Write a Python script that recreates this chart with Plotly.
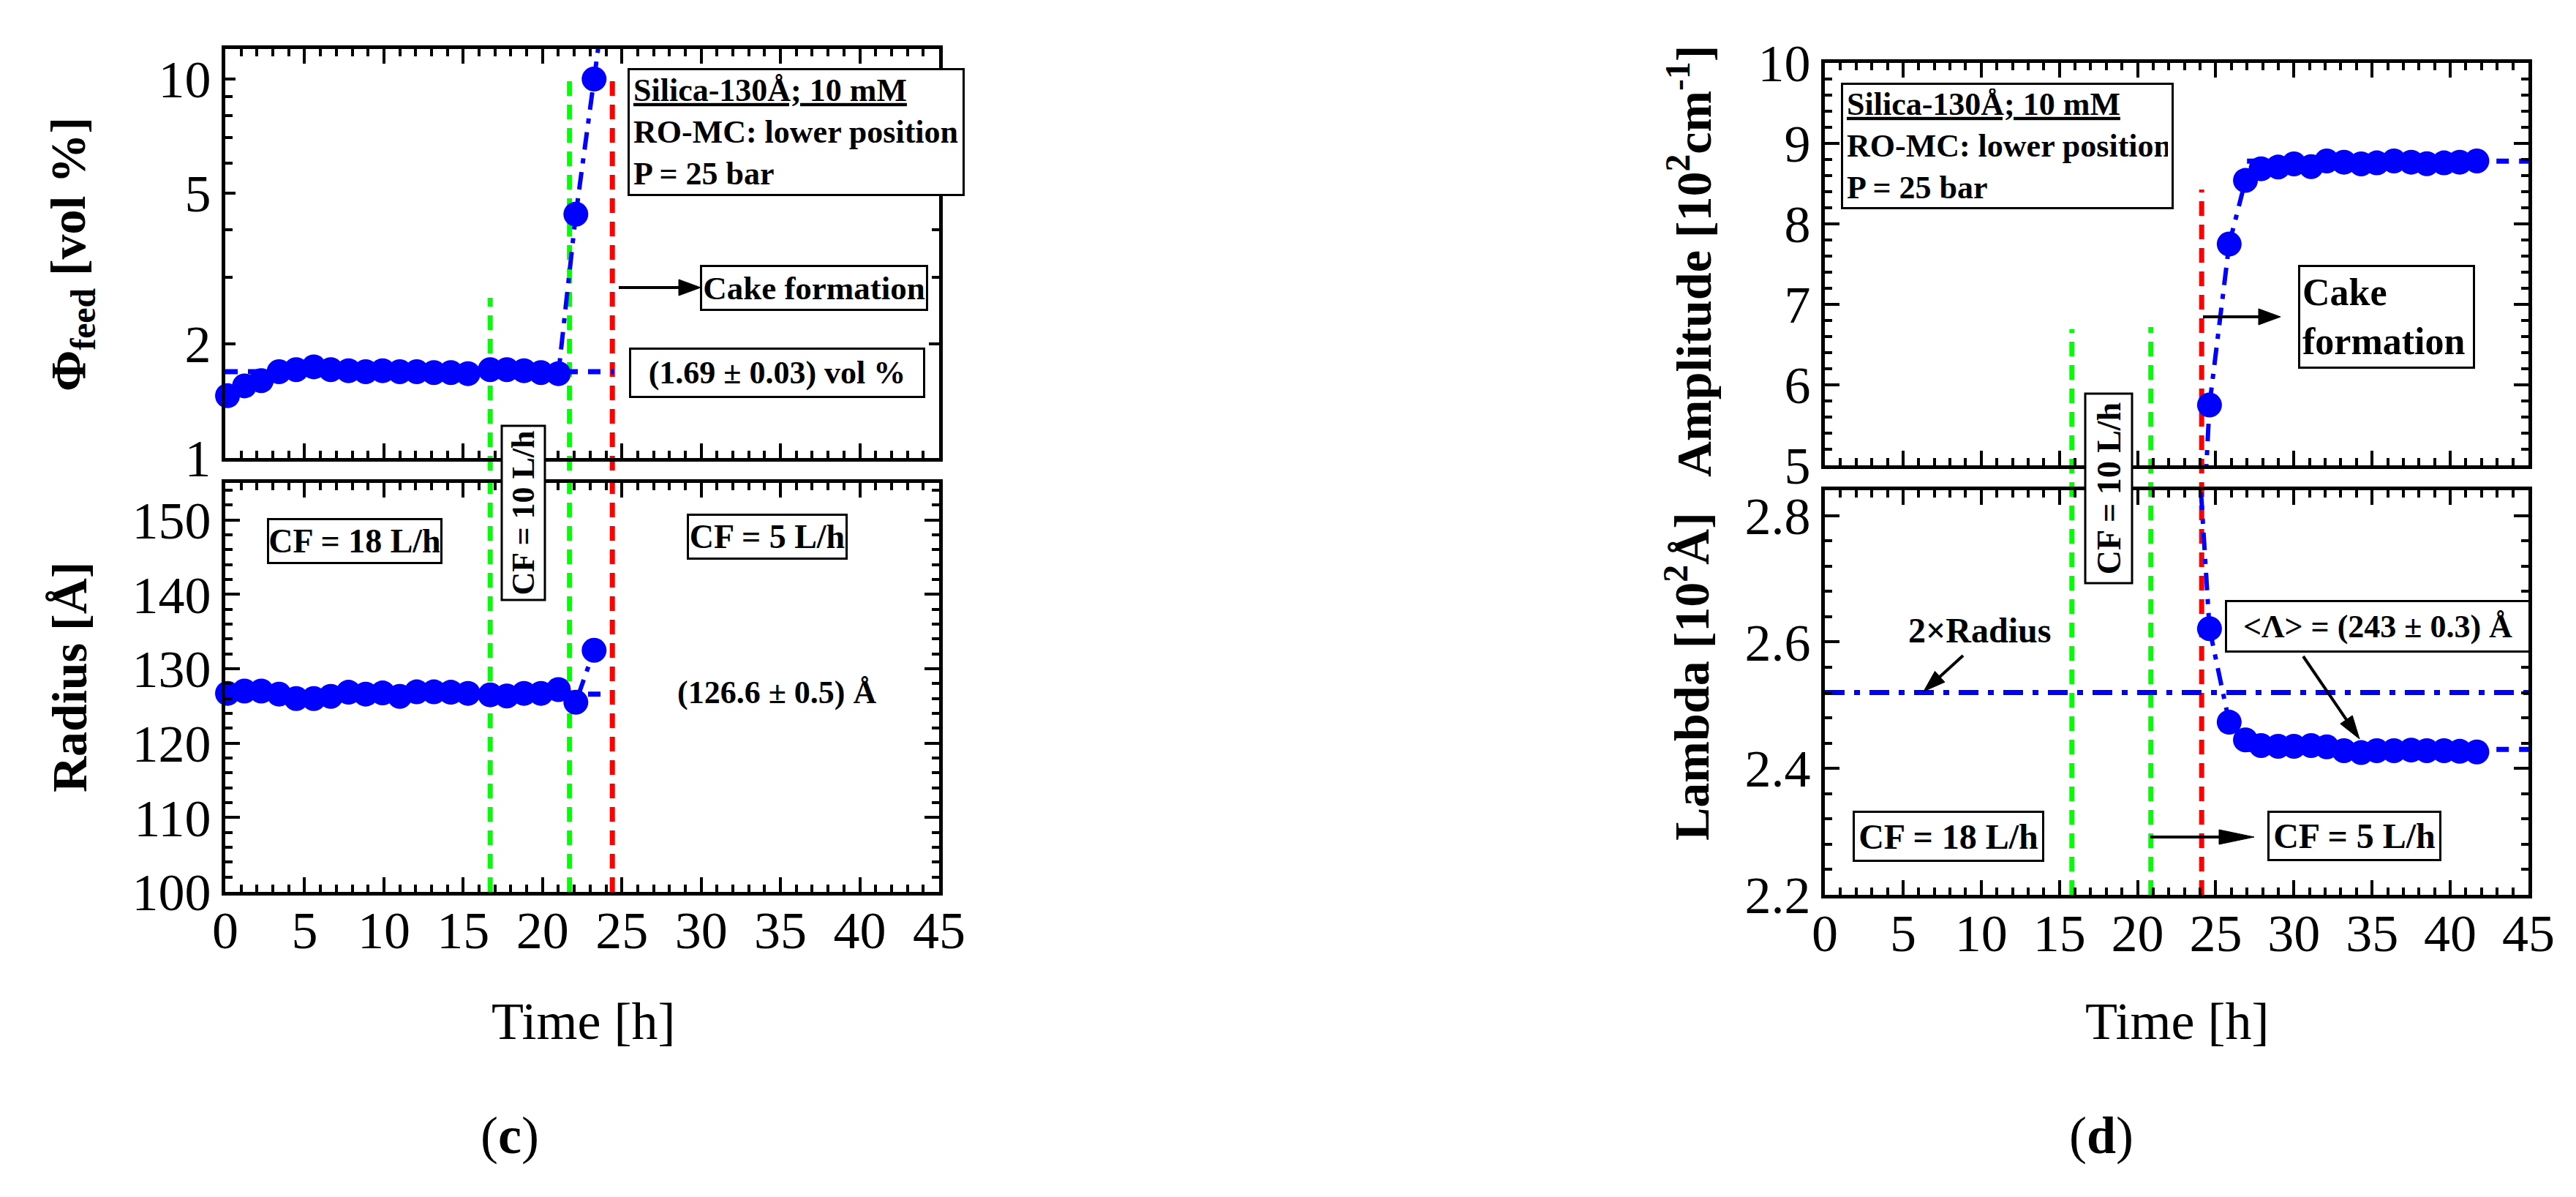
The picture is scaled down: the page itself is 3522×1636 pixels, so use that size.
import math
import plotly.graph_objects as go

W, H = 3522, 1636
SERIF = "Liberation Serif"
BLUE = "#0000FF"
GREEN = "#00FF00"
RED = "#FF0000"

# ---------------- data: panel (c) ----------------
time_c = [0.14, 1.21, 2.27, 3.39, 4.47, 5.58, 6.65, 7.77, 8.85, 9.92, 11.0,
          12.07, 13.15, 14.22, 15.3, 16.7, 17.75, 18.83, 19.9, 21.0, 22.1, 23.25]
phi_feed = [1.46, 1.55, 1.60, 1.69, 1.71, 1.74, 1.71, 1.70, 1.69, 1.70, 1.69,
            1.69, 1.68, 1.68, 1.67, 1.71, 1.71, 1.70, 1.68, 1.67, 4.4, 10.0]
radius = [126.7, 127.0, 127.0, 126.6, 126.0, 126.0, 126.3, 126.85, 126.6, 126.75, 126.3,
          126.9, 126.9, 126.85, 126.7, 126.5, 126.35, 126.7, 126.7, 127.2, 125.5, 132.5]
phi_guide_t = [23.25, 23.6]
phi_guide = [10.0, 12.9]
phi_mean_t = [0, 24.5]
phi_mean = [1.69, 1.69]
radius_mean_t = [0, 24.3]
radius_mean = [126.6, 126.6]
cf_change_c = [16.7, 21.7]
cake_c = 24.4

# ---------------- data: panel (d) ----------------
time_d = [24.6, 25.86, 26.9, 27.9, 28.99, 30.0, 31.1, 32.1, 33.2, 34.3, 35.3,
          36.4, 37.5, 38.5, 39.6, 40.6, 41.7]
amplitude = [5.75, 7.75, 8.54, 8.685, 8.706, 8.745, 8.712, 8.782, 8.767, 8.745, 8.758,
             8.782, 8.767, 8.748, 8.758, 8.767, 8.782]
lambda_ = [2.621, 2.473, 2.445, 2.436, 2.435, 2.435, 2.436, 2.434, 2.428, 2.425, 2.428,
           2.428, 2.429, 2.428, 2.428, 2.427, 2.426]
amp_guide_t = [24.35, 24.6]
amp_guide = [4.8, 5.75]
lam_guide_t = [23.9, 24.6]
lam_guide = [2.9, 2.621]
amp_mean_t = [27, 45]
amp_mean = [8.78, 8.78]
lam_mean_t = [27, 45]
lam_mean = [2.43, 2.43]
two_radius_t = [0, 45]
two_radius = [2.52, 2.52]
cf_change_d = [15.8, 20.85]
cake_d = 24.1


def px(x):
    return x / W


def py(y):
    return 1 - y / H


fig = go.Figure()

DASHDOT = "24px,12px,7px,12px"
MEANDASH = "17px,14px"


def add_series(t, v, xa, ya):
    fig.add_trace(go.Scatter(x=t, y=v, xaxis=xa, yaxis=ya, mode="lines+markers",
                             line=dict(color=BLUE, width=6, dash=DASHDOT),
                             marker=dict(color=BLUE, size=34, symbol="circle"),
                             cliponaxis=False, showlegend=False))


def add_line(t, v, xa, ya, dash, width=7):
    fig.add_trace(go.Scatter(x=t, y=v, xaxis=xa, yaxis=ya, mode="lines",
                             line=dict(color=BLUE, width=width, dash=dash),
                             showlegend=False))


# (c) top
add_line(phi_mean_t, phi_mean, "x", "y", MEANDASH)
add_line(phi_guide_t, phi_guide, "x", "y", DASHDOT, 6)
add_series(time_c, phi_feed, "x", "y")
# (c) bottom
add_line(radius_mean_t, radius_mean, "x2", "y2", MEANDASH)
add_series(time_c, radius, "x2", "y2")
# (d) top
add_line(amp_mean_t, amp_mean, "x3", "y3", MEANDASH)
add_line(amp_guide_t, amp_guide, "x3", "y3", DASHDOT, 6)
add_series(time_d, amplitude, "x3", "y3")
# (d) bottom
add_line(two_radius_t, two_radius, "x4", "y4", "27px,13px,8px,13px", 7)
add_line(lam_mean_t, lam_mean, "x4", "y4", MEANDASH)
add_line(lam_guide_t, lam_guide, "x4", "y4", DASHDOT, 6)
add_series(time_d, lambda_, "x4", "y4")

TICKFONT = dict(family=SERIF, size=72, color="black")
common = dict(showline=True, linewidth=5, linecolor="black", mirror="allticks",
              ticks="inside", ticklen=20, tickwidth=4, tickcolor="black",
              showgrid=False, zeroline=False, tickfont=TICKFONT, automargin=False)
minor_common = dict(ticks="inside", ticklen=10, tickwidth=4, tickcolor="black", showgrid=False)

xc = [px(308), px(1284)]
xd = [px(2495), px(3457)]

fig.update_layout(
    xaxis=dict(domain=xc, anchor="y", range=[0, 45], tick0=0, dtick=5,
               showticklabels=False, minor=dict(dtick=1, **minor_common), **common),
    yaxis=dict(domain=[py(626), py(67)], anchor="x", type="log",
               range=[0, math.log10(12.0)], tickvals=[1, 2, 5, 10], ticktext=["1", "2", "5", "10"],
               minor=dict(tickvals=[3, 4, 6, 7, 8, 9], **minor_common), **{**common, "ticklen": 14}),
    xaxis2=dict(domain=xc, anchor="y2", range=[0, 45], tick0=0, dtick=5, ticklabelstandoff=-14,
                minor=dict(dtick=1, **minor_common), **common),
    yaxis2=dict(domain=[py(1219), py(660)], anchor="x2", range=[100, 155], tick0=100, dtick=10,
                minor=dict(dtick=2, **minor_common), **common),
    xaxis3=dict(domain=xd, anchor="y3", range=[0, 45], tick0=0, dtick=5,
                showticklabels=False, minor=dict(dtick=1, **minor_common), **common),
    yaxis3=dict(domain=[py(636), py(86)], anchor="x3", range=[5, 10], tick0=5, dtick=1,
                minor=dict(dtick=0.2, **minor_common), **common),
    xaxis4=dict(domain=xd, anchor="y4", range=[0, 45], tick0=0, dtick=5, ticklabelstandoff=-14,
                minor=dict(dtick=1, **minor_common), **common),
    yaxis4=dict(domain=[py(1223), py(670)], anchor="x4", range=[2.2, 2.84], tick0=2.2, dtick=0.2,
                tickformat=".1f", minor=dict(dtick=0.04, **minor_common), **common),
)

shapes = []


def vline(xv, xref, ytop, ybot, color):
    shapes.append(dict(type="line", xref=xref, yref="paper", x0=xv, x1=xv,
                       y0=py(ybot), y1=py(ytop), layer="below",
                       line=dict(color=color, width=7, dash="20px,12px")))


vline(cf_change_c[0], "x", 407, 1219, GREEN)
vline(cf_change_c[1], "x", 101, 1219, GREEN)
vline(cake_c, "x", 101, 1219, RED)
vline(cf_change_d[0], "x3", 450, 1223, GREEN)
vline(cf_change_d[1], "x3", 447, 1223, GREEN)
vline(cake_d, "x3", 259, 1223, RED)


def arrow(tail, head, width=4, length=30, half=11):
    dx, dy = head[0] - tail[0], head[1] - tail[1]
    n = math.hypot(dx, dy)
    ux, uy = dx / n, dy / n
    bx, by = head[0] - length * ux, head[1] - length * uy
    nx, ny = -uy, ux
    shapes.append(dict(type="line", xref="paper", yref="paper", layer="above",
                       x0=px(tail[0]), y0=py(tail[1]), x1=px(bx + 2 * ux), y1=py(by + 2 * uy),
                       line=dict(color="black", width=width)))
    p1 = (bx + half * nx, by + half * ny)
    p2 = (bx - half * nx, by - half * ny)
    path = "M {:.6f},{:.6f} L {:.6f},{:.6f} L {:.6f},{:.6f} Z".format(
        px(head[0]), py(head[1]), px(p1[0]), py(p1[1]), px(p2[0]), py(p2[1]))
    shapes.append(dict(type="path", xref="paper", yref="paper", layer="above", path=path,
                       fillcolor="black", line=dict(color="black", width=1)))


ann = []


def box(x0, y0, x1, y1, text, size, align="center", angle=0, bw=3, pad=4):
    iw = (x1 - x0) - 2 * (bw + pad)
    ih = (y1 - y0) - 2 * (bw + pad)
    if angle:
        iw, ih = ih, iw
    ann.append(dict(xref="paper", yref="paper", x=px((x0 + x1) / 2), y=py((y0 + y1) / 2),
                    xanchor="center", yanchor="middle", text=text, showarrow=False,
                    font=dict(family=SERIF, size=size, color="black"),
                    bordercolor="black", borderwidth=bw, borderpad=pad, bgcolor="white",
                    width=iw, height=ih, align=align, valign="middle", textangle=angle))


def label(xc_, yc_, text, size, angle=0, family=SERIF):
    ann.append(dict(xref="paper", yref="paper", x=px(xc_), y=py(yc_), xanchor="center",
                    yanchor="middle", text=text, showarrow=False, textangle=angle,
                    font=dict(family=family, size=size, color="black")))


INFO = "<b><u>Silica-130Å; 10 mM</u><br>RO-MC: lower position<br>P = 25 bar</b>"

# panel (c) texts
box(858, 93, 1319, 268, INFO, 44, align="left", pad=5)
box(957, 362, 1269, 425, "<b>Cake formation</b>", 45, pad=1)
arrow((846, 393), (958, 393))
box(860, 475, 1265, 544, "<b>(1.69 ± 0.03) vol %</b>", 44, pad=1)
box(365, 708, 605, 771, "<b>CF = 18 L/h</b>", 46, pad=1)
box(939, 702, 1159, 765, "<b>CF = 5 L/h</b>", 46, pad=1)
box(684, 581, 746, 822, "<b>CF = 10 L/h</b>", 44, angle=-90, pad=1)
label(1062, 946, "<b>(126.6 ± 0.5) Å</b>", 44)

# panel (d) texts
box(2517, 113, 2972, 286, INFO, 44, align="left", pad=5)
box(3142, 362, 3384, 504, "<b>Cake<br>formation</b>", 52, align="left", pad=3)
arrow((3012, 433), (3118, 433))
box(3042, 820, 3460, 892, "<b>&lt;Λ&gt; = (243 ± 0.3) Å</b>", 44, pad=1)
arrow((3149, 897), (3226, 1010), length=32, half=10)
label(2706, 862, "<b>2×Radius</b>", 48)
arrow((2684, 896), (2630, 945), length=30, half=10)
box(2533, 1108, 2795, 1178, "<b>CF = 18 L/h</b>", 48, pad=1)
box(3100, 1108, 3338, 1177, "<b>CF = 5 L/h</b>", 48, pad=1)
arrow((2940, 1144), (3082, 1144), length=48, half=10)
box(2849, 537, 2916, 799, "<b>CF = 10 L/h</b>", 46, angle=-90, pad=1)

# axis titles and panel labels
label(97, 348, "<b>Φ<sub>feed</sub> [vol %]</b>", 68, angle=-90)
label(95, 925, "<b>Radius [Å]</b>", 68, angle=-90)
label(2311, 357, "<b>Amplitude [10<sup>2</sup>cm<sup>-1</sup>]</b>", 68, angle=-90)
label(2308, 925, "<b>Lambda [10<sup>2</sup>Å]</b>", 68, angle=-90)
label(797, 1396, "Time [h]", 72)
label(2976, 1396, "Time [h]", 72)
label(697, 1552, "(<b>c</b>)", 72)
label(2873, 1552, "(<b>d</b>)", 72)

fig.update_layout(width=W, height=H, autosize=False, margin=dict(l=0, r=0, t=0, b=0, pad=0),
                  paper_bgcolor="white", plot_bgcolor="rgba(0,0,0,0)",
                  shapes=shapes, annotations=ann, showlegend=False,
                  font=dict(family=SERIF, color="black"))

fig.write_html("out.html", config={"displayModeBar": False, "responsive": False},
               post_script="document.body.style.margin='0px';")
